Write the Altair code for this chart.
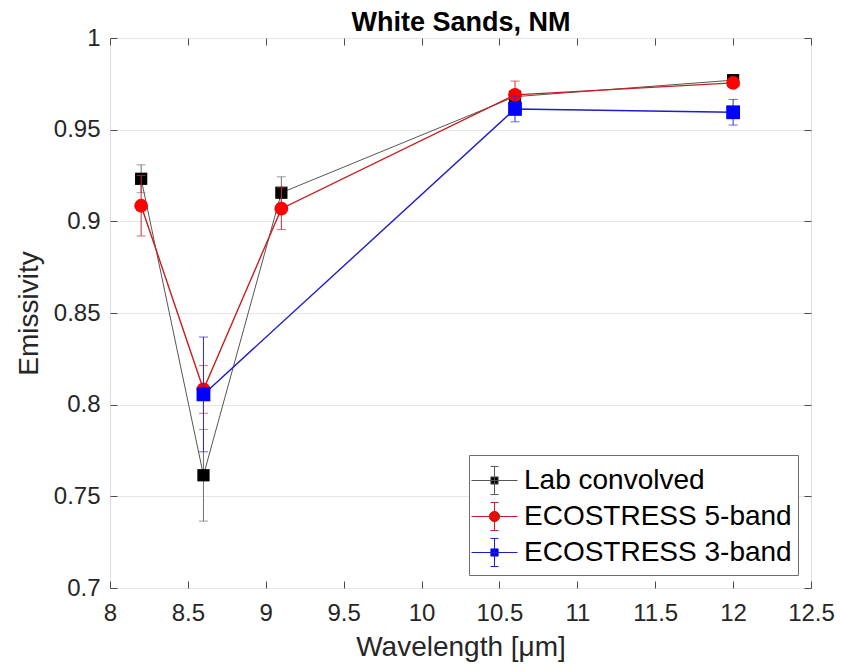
import altair as alt
import pandas as pd

# ---- data ----
series_names = ["Lab convolved", "ECOSTRESS 5-band", "ECOSTRESS 3-band"]

lab_x = [8.2, 8.6, 9.1, 10.6, 12.0]
lab_y = [0.9232, 0.7615, 0.9156, 0.968, 0.977]
lab_err = [0.0076, 0.025, 0.0087, 0.003, 0.002]

eco5_x = [8.2, 8.6, 9.1, 10.6, 12.0]
eco5_y = [0.9085, 0.8083, 0.9069, 0.969, 0.9755]
eco5_err = [0.0165, 0.013, 0.0114, 0.0075, 0.002]

eco3_x = [8.6, 10.6, 12.0]
eco3_y = [0.8056, 0.9613, 0.9595]
eco3_err = [0.0313, 0.007, 0.007]

x_ticks = [8, 8.5, 9, 9.5, 10, 10.5, 11, 11.5, 12, 12.5]
y_ticks = [0.7, 0.75, 0.8, 0.85, 0.9, 0.95, 1.0]

TITLE = "White Sands, NM"

# ---- styles ----
FONT = "Liberation Sans"
line_colors = ["#555555", "#c81e1e", "#1c1cd0"]
err_colors = ["#707070", "#c83030", "#2a2ae0"]
marker_colors = ["#000000", "#ff0000", "#0000ff"]
marker_shapes = ["square", "circle", "square"]
marker_sizes = [150, 190, 190]
line_widths = [1.0, 1.4, 1.4]

leg_common = "M-1.21,0H1.21M0,-0.74V0.74M-0.21,-0.74H0.21M-0.21,0.74H0.21"
leg_square = leg_common + "M-0.19,-0.19H0.19V0.19H-0.19Z"
leg_circle = leg_common + "M-0.27,0A0.27,0.27,0,1,1,0.27,0A0.27,0.27,0,1,1,-0.27,0Z"
legend_paths = [leg_square, leg_circle, leg_square]

rows = []
for name, xs, ys, es in zip(series_names, [lab_x, eco5_x, eco3_x],
                            [lab_y, eco5_y, eco3_y], [lab_err, eco5_err, eco3_err]):
    for xv, yv, ev in zip(xs, ys, es):
        rows.append({"series": name, "x": xv, "y": yv, "lo": yv - ev, "hi": yv + ev})
df = pd.DataFrame(rows)

xscale = alt.Scale(domain=[8, 12.5], nice=False, zero=False)
yscale = alt.Scale(domain=[0.7, 1.0], nice=False, zero=False)

AX_COL = "#4d4d4d"
LAB_COL = "#262626"

main_x_axis = alt.Axis(orient="bottom", values=x_ticks, format="~g", tickSize=0, domain=False,
                       grid=False, labelFontSize=24, labelColor=LAB_COL, labelFont=FONT,
                       labelPadding=13, labelOverlap=False, labelFlush=False,
                       title="Wavelength [μm]", titleFont=FONT, titleFontSize=28,
                       titleFontWeight="normal", titleColor=LAB_COL, titlePadding=8)
main_y_axis = alt.Axis(orient="left", values=y_ticks, format="~g", tickSize=0, domain=False,
                       grid=True, gridColor="#e6e6e6", gridWidth=1,
                       labelFontSize=24, labelColor=LAB_COL, labelFont=FONT,
                       labelPadding=10, labelOverlap=False, labelFlush=False,
                       title="Emissivity", titleFont=FONT, titleFontSize=28,
                       titleFontWeight="normal", titleColor=LAB_COL, titlePadding=10)


def tick_axis(orient, values, title=None):
    kw = {}
    if title is not None:
        kw = dict(title=title, titleFont=FONT, titleFontSize=27, titleFontWeight="bold",
                  titleColor="#000000", titleBaseline="alphabetic", titlePadding=7)
    else:
        kw = dict(title=None)
    return alt.Axis(orient=orient, values=values, offset=-7, tickSize=7, tickColor=AX_COL,
                    labels=False, domain=False, grid=False, ticks=True, **kw)


axis_sets = [
    (main_x_axis, main_y_axis),
    (tick_axis("bottom", x_ticks), tick_axis("left", y_ticks)),
    (tick_axis("top", x_ticks, TITLE), tick_axis("right", y_ticks)),
]

layers = []
k = 0


def enc_xy(ycol="y:Q"):
    global k
    if k < len(axis_sets):
        xa, ya = axis_sets[k]
    else:
        xa, ya = None, None
    k += 1
    return alt.X("x:Q", scale=xscale, axis=xa), alt.Y(ycol, scale=yscale, axis=ya)


for i, name in enumerate(series_names):
    base = alt.Chart(df).transform_filter(alt.datum.series == name)
    X, Y = enc_xy()
    line = base.mark_line(color=line_colors[i], strokeWidth=line_widths[i]).encode(x=X, y=Y, order="x:Q")
    X, Y = enc_xy("lo:Q")
    bars = base.mark_rule(color=err_colors[i], strokeWidth=1).encode(x=X, y=Y, y2="hi:Q")
    X, Y = enc_xy("value:Q")
    caps = base.transform_fold(["lo", "hi"]).mark_tick(
        color=err_colors[i], orient="horizontal", size=9, thickness=1).encode(x=X, y=Y)
    X, Y = enc_xy()
    pts = base.mark_point(filled=True, shape=marker_shapes[i], size=marker_sizes[i],
                          color=marker_colors[i], opacity=1).encode(x=X, y=Y)
    layers += [line, bars, caps, pts]


def make_legend():
    return alt.Legend(
        title=None, orient="bottom-right", offset=13, fillColor="white", strokeColor="#6e6e6e",
        padding=6, symbolSize=1444, symbolOpacity=1, symbolStrokeWidth=1,
        labelFont=FONT, labelFontSize=28, labelColor="#000000", labelOffset=10,
        rowPadding=0, labelLimit=400,
    )


# invisible layer that only carries the legend
X, Y = enc_xy()
legend_layer = alt.Chart(df).mark_point(filled=True, opacity=0, strokeWidth=1).encode(
    x=X, y=Y,
    fill=alt.Fill("series:N", scale=alt.Scale(domain=series_names, range=marker_colors), legend=make_legend()),
    stroke=alt.Stroke("series:N", scale=alt.Scale(domain=series_names, range=line_colors), legend=make_legend()),
    shape=alt.Shape("series:N", scale=alt.Scale(domain=series_names, range=legend_paths), legend=make_legend()),
)
layers.append(legend_layer)

chart = alt.layer(*layers).resolve_axis(x="independent", y="independent").properties(
    width=701, height=550,
    autosize=alt.AutoSizeParams(type="none"),
    padding={"left": 110, "top": 38, "right": 30, "bottom": 81},
).configure_view(stroke=AX_COL, strokeWidth=1).configure(background="white")

chart.save("out.html", embed_options={"renderer": "svg", "actions": False})
